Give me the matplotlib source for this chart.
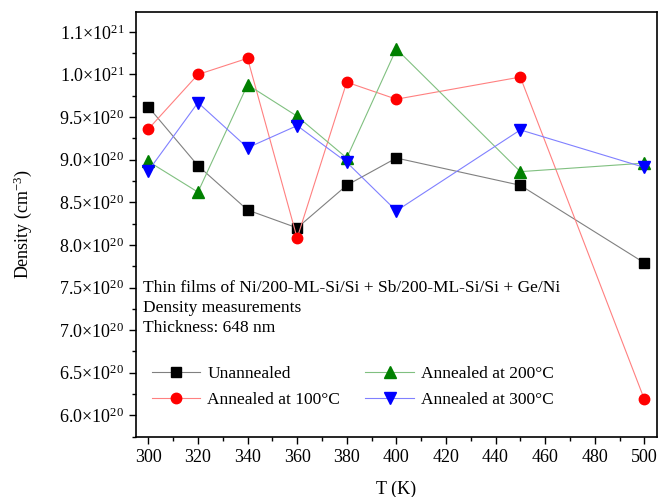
import numpy as np
import matplotlib
matplotlib.use('Agg')
import matplotlib.pyplot as plt
from matplotlib.ticker import FixedLocator, MultipleLocator, FuncFormatter

plt.rcParams['font.family'] = 'Liberation Serif'
plt.rcParams['mathtext.fontset'] = 'custom'
plt.rcParams['mathtext.rm'] = 'Liberation Serif'
plt.rcParams['mathtext.it'] = 'Liberation Serif:italic'

# Temperatures (K)
temps = [300, 320, 340, 360, 380, 400, 450, 500]

# Density values (units of 1e20 cm^-3)
unannealed = [9.62, 8.93, 8.41, 8.20, 8.70, 9.02, 8.70, 7.79]
annealed_100 = [9.36, 10.00, 10.19, 8.08, 9.91, 9.71, 9.97, 6.19]
annealed_200 = [8.98, 8.62, 9.88, 9.51, 9.02, 10.30, 8.86, 8.96]
annealed_300 = [8.87, 9.67, 9.14, 9.40, 8.97, 8.40, 9.35, 8.91]

# y tick positions and their labels as printed on the original
ytick_vals = [6.0, 6.5, 7.0, 7.5, 8.0, 8.5, 9.0, 9.5, 10.0, 10.5]
ytick_labels = ['6.0', '6.5', '7.0', '7.5', '8.0', '8.5', '9.0', '9.5', '1.0', '1.1']

fig = plt.figure(figsize=(6.61, 4.97), dpi=100)
ax = fig.add_axes([0.2057, 0.1213, 0.7878, 0.854])

scale = 1e20
ax.plot(temps, np.array(unannealed) * scale, color='#808080', lw=0.8,
        marker='s', ms=6.5, mfc='black', mec='black', label='Unannealed')
ax.plot(temps, np.array(annealed_100) * scale, color='#ff8080', lw=0.8,
        marker='o', ms=7.5, mfc='red', mec='red', label='Annealed at 100°C')
ax.plot(temps, np.array(annealed_200) * scale, color='#80c080', lw=0.8,
        marker='^', ms=8, mfc='green', mec='green', label='Annealed at 200°C')
ax.plot(temps, np.array(annealed_300) * scale, color='#8080ff', lw=0.8,
        marker='v', ms=8, mfc='blue', mec='blue', label='Annealed at 300°C')

ax.set_xlim(295, 505)
ax.set_ylim(5.75e20, 10.73e20)

ax.xaxis.set_major_locator(MultipleLocator(20))
ax.xaxis.set_minor_locator(MultipleLocator(10))
ax.yaxis.set_major_locator(FixedLocator([v * scale for v in ytick_vals]))
ax.yaxis.set_minor_locator(MultipleLocator(0.25e20))


def yfmt(v, pos):
    for tv, tl in zip(ytick_vals, ytick_labels):
        if abs(v / scale - tv) < 1e-6:
            exp = 21 if tv >= 10 else 20
            return tl + r'$\times$10$^{%d}$' % exp
    return ''


ax.yaxis.set_major_formatter(FuncFormatter(yfmt))

ax.tick_params(which='both', direction='out', top=False, right=False,
               labelsize=13)
ax.tick_params(which='major', length=5, width=1)
ax.tick_params(which='minor', length=3, width=1)
for s in ax.spines.values():
    s.set_linewidth(1.2)

ax.set_xlabel('T (K)', fontsize=13, labelpad=11)
ax.set_ylabel('Density (cm$^{-3}$)', fontsize=13, labelpad=18)

ax.text(298, 7.59e20, 'Thin films of Ni/200-ML-Si/Si + Sb/200-ML-Si/Si + Ge/Ni\n'
        'Density measurements\nThickness: 648 nm', fontsize=12.5,
        va='top', ha='left', linespacing=1.32)

ax.legend(loc='lower left', bbox_to_anchor=(0.0, 0.03), ncol=2, frameon=False,
          fontsize=12.5, handlelength=2.8, columnspacing=1.45, labelspacing=0.6,
          handletextpad=0.4)

fig.savefig('out.png', dpi=100)
